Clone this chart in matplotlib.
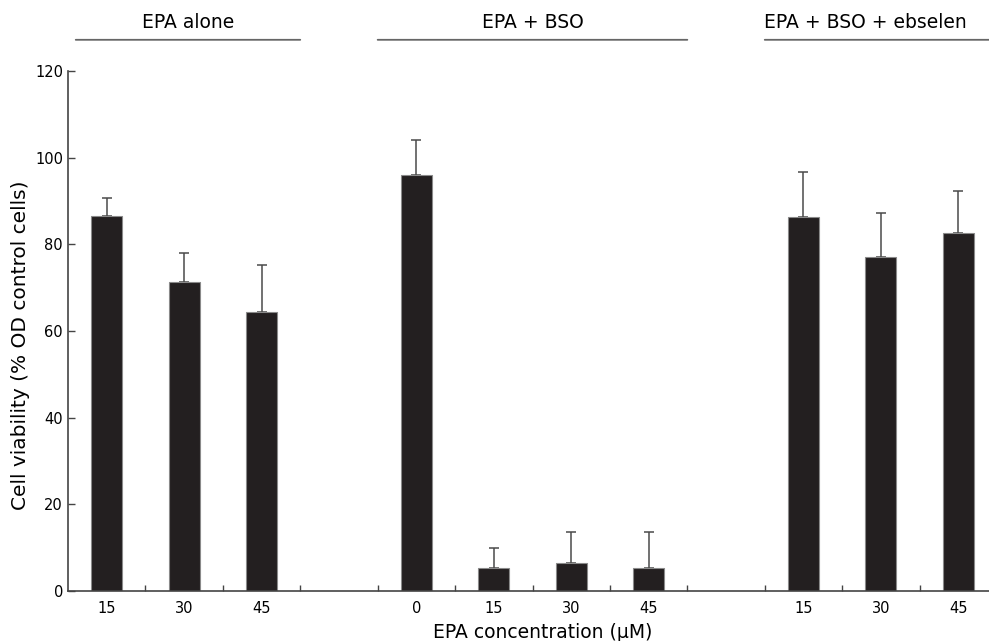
import matplotlib
matplotlib.use("Agg")
import matplotlib.pyplot as plt
import numpy as np

plt.rcParams['font.family'] = ['DejaVu Sans']

# Data
slot_labels = ["15", "30", "45", "", "0", "15", "30", "45", "", "15", "30", "45"]
bar_slots = [0, 1, 2, 4, 5, 6, 7, 9, 10, 11]
values = [86.6, 71.4, 64.3, 96.0, 5.4, 6.4, 5.3, 86.4, 77.0, 82.7]
errors = [4.0, 6.7, 10.9, 8.0, 4.6, 7.3, 8.4, 10.2, 10.2, 9.7]
group_names = ["EPA alone", "EPA + BSO", "EPA + BSO + ebselen"]
group_spans = [(-0.4, 2.5), (3.5, 7.5), (8.5, 11.5)]
group_text_x = [1.05, 5.5, 9.8]

fig = plt.figure(figsize=(9.89, 6.41), dpi=100)
ax = fig.add_axes([68/989, 50/641, (997-68)/989, 520/641])

ax.bar(bar_slots, values, width=0.4, color='#231f20', edgecolor='#8a8a8a',
       linewidth=0.8, zorder=2)
ax.errorbar(bar_slots, values, yerr=[np.zeros(len(errors)), errors], fmt='none',
            ecolor='#4a4a4a', elinewidth=1.1, capsize=3.8, capthick=1.1, zorder=1)

ax.set_xlim(-0.5, 11.5)
ax.set_ylim(0, 120)
ax.set_yticks(np.arange(0, 121, 20))
ax.tick_params(axis='y', direction='in', length=4.7, width=1, labelsize=10.5,
               pad=3.6, color='#444444')
ax.set_xticks(range(len(slot_labels)))
ax.set_xticklabels(slot_labels)
ax.tick_params(axis='x', which='major', length=0, labelsize=10.5, pad=7)
ax.set_xticks(np.arange(0.5, 11, 1.0), minor=True)
ax.tick_params(axis='x', which='minor', direction='in', length=4.5, width=1,
               color='#444444')

for side in ['top', 'right']:
    ax.spines[side].set_visible(False)
for side in ['left', 'bottom']:
    ax.spines[side].set_color('#444444')
    ax.spines[side].set_linewidth(1.2)

fig.text(543/989, 3/641, "EPA concentration (\u03bcM)", fontsize=13.5,
         ha='center', va='baseline')
fig.text(21/989, 1 - 345/641, "Cell viability (% OD control cells)",
         fontsize=14.5, rotation=90, ha='center', va='center')

for name, (x0, x1), tx in zip(group_names, group_spans, group_text_x):
    ax.annotate('', xy=(x1, 127.2), xytext=(x0, 127.2), xycoords='data',
                annotation_clip=False,
                arrowprops=dict(arrowstyle='-', color='#666666', lw=1.3,
                                shrinkA=0, shrinkB=0))
    ax.text(tx, 131.3, name, ha='center', va='center', fontsize=13.5,
            clip_on=False)

fig.savefig("out.png", dpi=100)
